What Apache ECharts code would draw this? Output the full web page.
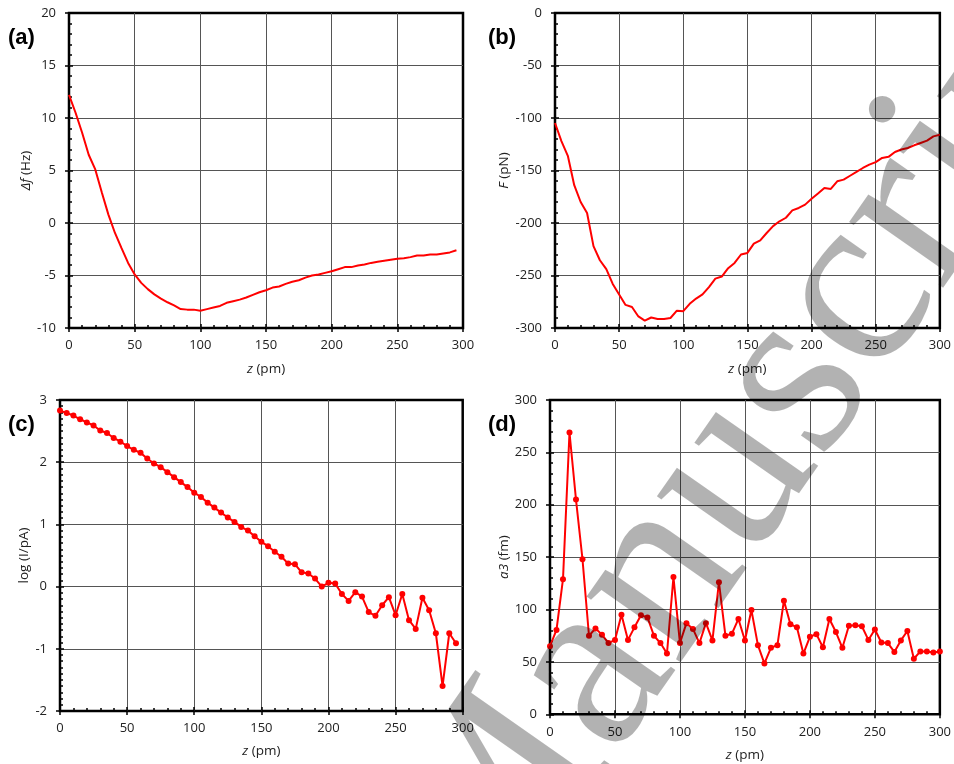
<!DOCTYPE html>
<html>
<head>
<meta charset="utf-8">
<script src="https://cdn.jsdelivr.net/npm/echarts@6/dist/echarts.min.js"></script>
<style>
html,body{margin:0;padding:0;background:#fff;}
#chart{width:954px;height:764px;}
</style>
</head>
<body>
<div id="chart"></div>
<script>
// z positions (pm)
const zValues = [0,5,10,15,20,25,30,35,40,45,50,55,60,65,70,75,80,85,90,95,100,105,110,115,120,125,130,135,140,145,150,155,160,165,170,175,180,185,190,195,200,205,210,215,220,225,230,235,240,245,250,255,260,265,270,275,280,285,290,295,300];

// (a) frequency shift Δf (Hz)
const dfValues = [12.2,10.5,8.6,6.5,5.1,2.9,0.8,-0.95,-2.4,-3.8,-4.9,-5.7,-6.3,-6.8,-7.2,-7.55,-7.85,-8.2,-8.25,-8.25,-8.35,-8.2,-8.05,-7.9,-7.6,-7.45,-7.3,-7.1,-6.85,-6.6,-6.4,-6.15,-6.05,-5.8,-5.6,-5.45,-5.2,-5.0,-4.9,-4.75,-4.6,-4.4,-4.2,-4.2,-4.05,-3.95,-3.8,-3.7,-3.6,-3.5,-3.4,-3.35,-3.25,-3.1,-3.1,-3.0,-3.0,-2.9,-2.8,-2.6];

// (b) force F (pN)
const forceValues = [-104.8,-122,-136,-164,-180,-190.5,-222,-235.5,-244,-258,-268,-278,-280,-289,-293,-290,-291.4,-291.4,-290.5,-283.5,-284,-277,-272,-268,-261,-253,-251,-243,-238,-230,-228.5,-219.7,-216.5,-209.5,-203,-198.4,-195,-188,-185.7,-182.5,-177,-172,-166.7,-167.6,-160.3,-158.7,-155,-151.4,-147.6,-144.4,-142,-138,-137,-132.4,-130,-128.6,-126,-123.8,-121.6,-117.5,-116];

// (c) log (I/pA)
const logIValues = [2.83,2.79,2.75,2.69,2.64,2.59,2.51,2.47,2.39,2.33,2.26,2.20,2.15,2.06,1.98,1.92,1.84,1.76,1.68,1.60,1.51,1.44,1.35,1.27,1.19,1.11,1.04,0.96,0.90,0.81,0.72,0.65,0.56,0.48,0.37,0.36,0.23,0.21,0.13,0.00,0.06,0.05,-0.12,-0.23,-0.09,-0.16,-0.41,-0.47,-0.30,-0.17,-0.46,-0.12,-0.54,-0.68,-0.18,-0.38,-0.75,-1.60,-0.75,-0.91];

// (d) a3 (fm)
const a3Values = [65,80.5,129,269,205,148,75,82,76,68,71,95,71,83,94.5,92.5,75,68,58,131,68,87,81.5,68,87,70.5,126,75,77,91,70.5,99.5,66,48.5,63.5,66,108.5,86,83,58,74,76.5,64,91,78.5,63.5,84.5,85,84,71,81,68.5,68,59.5,70.5,79.5,53,60,60,59,60];

// axis tick settings
const xTicks = {min:0, max:300, interval:50};
const yTicksA = {min:-10, max:20, interval:5};
const yTicksB = {min:-300, max:0, interval:50};
const yTicksC = {min:-2, max:3, interval:1};
const yTicksD = {min:0, max:300, interval:50};

const FONT = '"Open Sans", "Liberation Sans", sans-serif';
const TXT = '#222';

const panels = [
  {label:'(a)', rect:{left:69, top:13, width:394, height:315}, y:yTicksA, yMinor:5, values:dfValues,
   yName:'{i|Δf} (Hz)', yGap:36, xGap:34, symbols:false, lx:8, ly:38},
  {label:'(b)', rect:{left:555, top:13, width:387.5, height:315}, y:yTicksB, yMinor:5, values:forceValues,
   yName:'{i|F} (pN)', yGap:44, xGap:34, symbols:false, lx:488, ly:38},
  {label:'(c)', rect:{left:60, top:400, width:402.7, height:311}, y:yTicksC, yMinor:10, values:logIValues,
   yName:'log (I/pA)', yGap:28, xGap:33, symbols:true, lx:8, ly:425},
  {label:'(d)', rect:{left:550, top:400, width:392.3, height:314.3}, y:yTicksD, yMinor:5, values:a3Values,
   yName:'{i|a3} (fm)', yGap:38, xGap:34, symbols:true, lx:488, ly:425}
];

const grids = [], xAxes = [], yAxes = [], series = [], graphics = [];
const richName = {i:{fontStyle:'italic', fontFamily:FONT, fontSize:13.5, color:TXT}};

panels.forEach((p, i) => {
  grids.push(Object.assign({show:true, borderColor:'#000', borderWidth:2.5, backgroundColor:'#fff', containLabel:false}, p.rect));
  // main axes
  xAxes.push({
    type:'value', gridIndex:i, position:'bottom', min:xTicks.min, max:xTicks.max, interval:xTicks.interval,
    name:'{i|z} (pm)', nameLocation:'middle', nameGap:p.xGap,
    nameTextStyle:{fontFamily:FONT, fontSize:13.5, color:TXT, rich:richName},
    axisLine:{show:false, onZero:false},
    axisTick:{show:true, inside:false, length:4, lineStyle:{color:'#000', width:1.5}},
    axisLabel:{show:true, margin:11, fontFamily:FONT, fontSize:13, color:TXT},
    splitLine:{show:true, showMinLine:false, showMaxLine:false, lineStyle:{color:'#555', width:1}}
  });
  // inner minor ticks
  xAxes.push({
    type:'value', gridIndex:i, position:'bottom', min:xTicks.min, max:xTicks.max, interval:xTicks.interval,
    axisLine:{show:false, onZero:false},
    axisTick:{show:true, inside:true, length:4, lineStyle:{color:'#000', width:1.5}},
    minorTick:{show:true, splitNumber:5, length:3, lineStyle:{color:'#000', width:1.5}},
    axisLabel:{show:false}, splitLine:{show:false}
  });
  yAxes.push({
    type:'value', gridIndex:i, position:'left', min:p.y.min, max:p.y.max, interval:p.y.interval,
    name:p.yName, nameLocation:'middle', nameGap:p.yGap,
    nameTextStyle:{fontFamily:FONT, fontSize:13.5, color:TXT, rich:richName},
    axisLine:{show:false, onZero:false},
    axisTick:{show:true, inside:false, length:4, lineStyle:{color:'#000', width:1.5}},
    axisLabel:{show:true, margin:13, fontFamily:FONT, fontSize:13, color:TXT},
    splitLine:{show:true, showMinLine:false, showMaxLine:false, lineStyle:{color:'#555', width:1}}
  });
  yAxes.push({
    type:'value', gridIndex:i, position:'left', min:p.y.min, max:p.y.max, interval:p.y.interval,
    axisLine:{show:false, onZero:false},
    axisTick:{show:true, inside:true, length:4, lineStyle:{color:'#000', width:1.5}},
    minorTick:{show:true, splitNumber:p.yMinor, length:3, lineStyle:{color:'#000', width:1.5}},
    axisLabel:{show:false}, splitLine:{show:false}
  });
  series.push({
    type:'line', xAxisIndex:2*i, yAxisIndex:2*i,
    data:p.values.map((v, k) => [zValues[k], v]),
    showSymbol:p.symbols, symbol:'circle', symbolSize:6, showAllSymbol:true,
    itemStyle:{color:'#ff0000'}, lineStyle:{color:'#ff0000', width:2},
    animation:false, silent:true, z:5
  });
  graphics.push({
    type:'text', x:p.lx, y:p.ly, z:50,
    style:{text:p.label, font:'bold 22px "Liberation Sans", Arial, sans-serif', fill:'#000',
           align:'left', verticalAlign:'middle', textAlign:'left', textVerticalAlign:'middle'}
  });
});

// watermark overlay
graphics.push({
  type:'text', x:759, y:436, rotation:55*Math.PI/180, z:100, silent:true,
  style:{text:'Manuscript', font:'250px "Liberation Serif", "DejaVu Serif", serif', fill:'rgba(0,0,0,0.3)',
         align:'center', verticalAlign:'middle', textAlign:'center', textVerticalAlign:'middle'}
});

const chart = echarts.init(document.getElementById('chart'), null, {renderer:'canvas'});
chart.setOption({
  animation:false,
  backgroundColor:'#fff',
  grid:grids, xAxis:xAxes, yAxis:yAxes, series:series,
  graphic:{elements:graphics}
});
</script>
</body>
</html>
